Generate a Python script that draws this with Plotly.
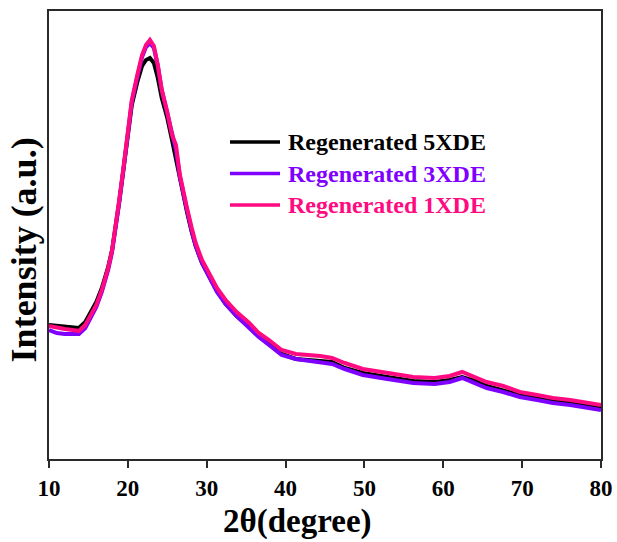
import plotly.graph_objects as go

# 2-theta positions (degree) shared by the three scans
two_theta = [10.0, 11.0, 12.0, 13.0, 13.8, 14.6, 15.1, 16.0, 16.7, 17.5,
             18.0, 18.5, 18.9, 19.4, 19.9, 20.5, 21.2, 21.8, 22.3, 22.8,
             23.3, 23.8, 24.3, 25.0, 25.6, 26.1, 26.6, 27.1, 27.5, 28.1,
             28.6, 29.4, 30.3, 31.3, 32.4, 33.8, 35.4, 36.6, 37.9, 39.5,
             41.3, 43.1, 44.4, 45.9, 47.5, 49.8, 52.9, 56.2, 58.9, 60.8,
             62.4, 64.0, 65.5, 67.6, 69.7, 71.9, 73.9, 76.1, 78.0, 80.0]

# Intensity (a.u.)
int_5xde = [134, 133, 132, 131, 131, 137, 144, 157, 171, 192,
            209, 233, 257, 287, 316, 354, 377, 393, 399, 401,
            396, 381, 361, 341, 319, 299, 279, 261, 247, 227,
            213, 196, 182, 168, 155, 143, 132, 123, 115, 105,
            100, 99, 98, 97, 91, 86, 82, 78, 77, 79,
            82, 78, 73, 69, 64, 61, 58, 56, 54, 51]

int_3xde = [129, 126, 125, 125, 125, 131, 138, 152, 167, 189,
            207, 231, 256, 287, 317, 357, 382, 402, 412, 416,
            411, 393, 369, 346, 323, 309, 282, 262, 249, 228,
            213, 196, 182, 167, 155, 143, 131, 122, 114, 104,
            100, 98, 97, 95, 90, 84, 80, 76, 75, 77,
            81, 76, 71, 67, 62, 59, 56, 54, 52, 49]

int_1xde = [133, 131, 130, 129, 128, 134, 141, 154, 169, 191,
            209, 234, 259, 289, 319, 359, 384, 404, 414, 419,
            413, 394, 369, 347, 324, 314, 284, 264, 251, 231,
            216, 199, 186, 171, 159, 147, 136, 126, 119, 109,
            105, 104, 103, 101, 96, 90, 86, 82, 81, 83,
            87, 82, 77, 73, 67, 64, 61, 59, 57, 54]

series = [
    ("Regenerated 5XDE", int_5xde, "#000000"),
    ("Regenerated 3XDE", int_3xde, "#7f00ff"),
    ("Regenerated 1XDE", int_1xde, "#ff0a80"),
]

FONT = "Liberation Serif"
W, H = 617, 542
ML, MR, MT, MB = 49, 16, 11, 83
PW, PH = W - ML - MR, H - MT - MB


def px_to_paper(xp, yp):
    return (xp - ML) / PW, (H - MB - yp) / PH


fig = go.Figure()
for name, vals, col in series:
    fig.add_trace(go.Scatter(
        x=two_theta, y=vals, mode="lines",
        line=dict(color=col, width=4),
        name=name, showlegend=False,
    ))

# Legend drawn as line samples with coloured bold labels
shapes, annotations = [], []
for i, (name, _, col) in enumerate(series):
    row_y = 142 + 31.5 * i
    x0, y0 = px_to_paper(230, row_y)
    x1, _ = px_to_paper(280, row_y)
    xt, _ = px_to_paper(286, row_y)
    shapes.append(dict(type="line", xref="paper", yref="paper",
                       x0=x0, x1=x1, y0=y0, y1=y0,
                       line=dict(color=col, width=3.5)))
    annotations.append(dict(text=name, xref="paper", yref="paper",
                            x=xt, y=y0, xanchor="left", yanchor="middle",
                            showarrow=False,
                            font=dict(family=FONT, size=24, color=col,
                                      weight="bold")))

annotations += [
    dict(text="2θ(degree)", xref="paper", yref="paper",
         x=0.451, y=-0.14, xanchor="center", yanchor="middle",
         showarrow=False,
         font=dict(family=FONT, size=33, color="black", weight="bold")),
    dict(text="Intensity (a.u.)", xref="paper", yref="paper",
         x=-0.045, y=0.466, xanchor="center", yanchor="middle",
         textangle=-90, showarrow=False,
         font=dict(family=FONT, size=36, color="black", weight="bold")),
]

axis_line = "#2a2a2a"
fig.update_layout(
    width=W, height=H,
    margin=dict(l=ML, r=MR, t=MT, b=MB, autoexpand=False),
    paper_bgcolor="white", plot_bgcolor="white",
    font=dict(family=FONT, size=21, color="black"),
    showlegend=False,
    xaxis=dict(
        range=[10, 80], tickmode="linear", tick0=10, dtick=10,
        ticks="outside", ticklen=7, tickwidth=2, tickcolor=axis_line,
        showline=True, linecolor=axis_line, linewidth=2, mirror=True,
        showgrid=False, zeroline=False, automargin=False,
        tickfont=dict(family=FONT, size=23, color="black", weight="bold"),
    ),
    yaxis=dict(
        range=[0, 448], showticklabels=False, ticks="",
        showline=True, linecolor=axis_line, linewidth=2, mirror=True,
        showgrid=False, zeroline=False, automargin=False,
    ),
    shapes=shapes,
    annotations=annotations,
)

fig.write_html("out.html")
